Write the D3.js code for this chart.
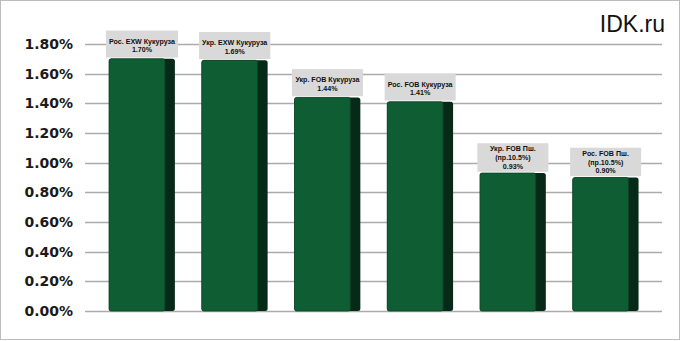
<!DOCTYPE html>
<html>
<head>
<meta charset="utf-8">
<script src="https://cdn.jsdelivr.net/npm/d3@7"></script>
<style>
  body { margin: 0; background: #fff; }
  svg { display: block; }
</style>
</head>
<body>
<div id="chart"></div>
<script>
// data
const categories = [
    ["Рос. EXW Кукуруза"],
    ["Укр. EXW Кукуруза"],
    ["Укр. FOB Кукуруза"],
    ["Рос. FOB Кукуруза"],
    ["Укр. FOB Пш.", "(пр.10.5%)"],
    ["Рос. FOB Пш.", "(пр.10.5%)"]
];
const values = [1.70, 1.69, 1.44, 1.41, 0.93, 0.90];
const yTicks = [0, 0.2, 0.4, 0.6, 0.8, 1.0, 1.2, 1.4, 1.6, 1.8];

const W = 681, H = 341;

const svg = d3.select("#chart")
    .append("svg")
    .attr("width", W)
    .attr("height", H);

// outer frame
svg.append("rect")
    .attr("x", 0.5).attr("y", 0.5)
    .attr("width", 679).attr("height", 339)
    .attr("fill", "#fff")
    .attr("stroke", "#bcbcbc");

const data = categories.map((c, i) => ({ id: i, lines: c, value: values[i] }));

// scales
const x = d3.scaleBand()
    .domain(data.map(d => d.id))
    .range([95.6, 652])
    .paddingInner(0.29)
    .paddingOuter(0.145);

const y = d3.scaleLinear()
    .domain([0, 1.8])
    .range([311, 44]);

// gridlines
svg.append("g")
    .selectAll("line")
    .data(yTicks)
    .join("line")
    .attr("x1", 85).attr("x2", 662)
    .attr("y1", d => Math.round(y(d)) + 0.5)
    .attr("y2", d => Math.round(y(d)) + 0.5)
    .attr("stroke", "#ababab")
    .attr("stroke-width", 1.3);

// y axis labels
const yAxis = svg.append("g")
    .attr("transform", "translate(73,0)")
    .call(d3.axisLeft(y).tickValues(yTicks).tickSize(0).tickPadding(0)
        .tickFormat(d => d3.format(".2f")(d) + "%"));
yAxis.select(".domain").remove();
yAxis.selectAll("text")
    .attr("font-family", "DejaVu Sans, Verdana, sans-serif")
    .attr("font-weight", "bold")
    .attr("font-size", 14)
    .attr("fill", "#1a1a1a");

// bars: dark side + green front
const sideW = 10;
const bars = svg.append("g")
    .selectAll("g")
    .data(data)
    .join("g");

bars.append("rect")
    .attr("x", d => x(d.id))
    .attr("y", d => y(d.value))
    .attr("width", x.bandwidth())
    .attr("height", d => y(0) - y(d.value))
    .attr("rx", 2.5)
    .attr("fill", "#062a17");

bars.append("rect")
    .attr("x", d => x(d.id))
    .attr("y", d => y(d.value))
    .attr("width", x.bandwidth() - sideW)
    .attr("height", d => y(0) - y(d.value))
    .attr("rx", 2)
    .attr("fill", "#0f5e33")
    .attr("stroke", "#0b4325")
    .attr("stroke-width", 0.8);

// value labels in grey boxes
const labels = svg.append("g")
    .selectAll("g")
    .data(data)
    .join("g");

labels.each(function(d) {
    const g = d3.select(this);
    const lines = d.lines.concat([d3.format(".2f")(d.value) + "%"]);
    const three = lines.length > 2;
    const boxH = three ? 28.5 : 27;
    const lineH = three ? 8.6 : 8.5;
    const first = three ? 8.2 : 13;
    const cx = x(d.id) + x.bandwidth() / 2;
    const top = y(d.value) - 1.3 - boxH;
    const rect = g.append("rect").attr("fill", "#d9d9d9");
    const txt = g.append("text")
        .attr("font-family", "Liberation Sans, Arial, sans-serif")
        .attr("font-weight", "bold")
        .attr("font-size", 7.1)
        .attr("fill", "#111")
        .attr("text-anchor", "middle");
    lines.forEach((t, i) => {
        txt.append("tspan")
            .attr("x", cx)
            .attr("y", top + first + i * lineH)
            .text(t);
    });
    const bw = Math.max(71, txt.node().getBBox().width + 6);
    rect.attr("x", cx - bw / 2)
        .attr("y", top)
        .attr("width", bw)
        .attr("height", boxH);
});

// watermark
svg.append("text")
    .attr("x", 665)
    .attr("y", 32)
    .attr("text-anchor", "end")
    .attr("font-family", "Liberation Sans, Arial, sans-serif")
    .attr("font-size", 23)
    .attr("fill", "#111")
    .text("IDK.ru");
</script>
</body>
</html>
